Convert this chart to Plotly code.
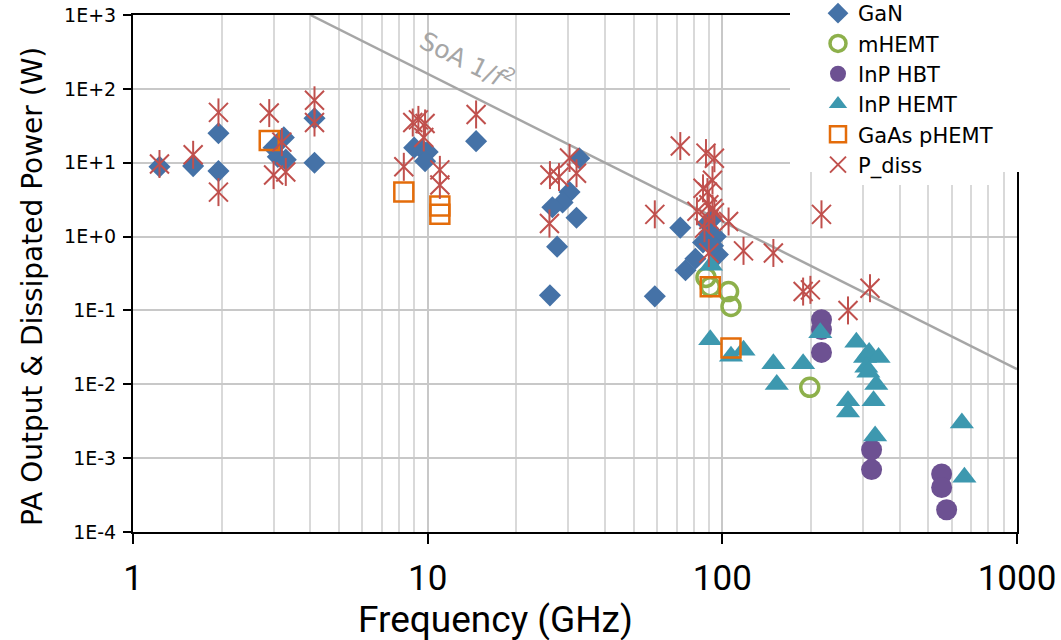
import math
import plotly.graph_objects as go

# ---------------- data ----------------
gan_f = [1.23, 1.6, 1.95, 1.95, 3.0, 3.25, 3.1, 3.3, 4.13, 4.13,
         9.0, 9.6, 10.0, 9.8, 14.6,
         32.7, 30.3, 28.7, 26.5, 32.0, 27.5, 26.0,
         59, 72, 75, 81, 86, 89, 90, 92, 95, 96.6, 93]
gan_p = [8.8, 9.0, 25, 7.7, 16, 22, 12, 11, 40, 10,
         16, 15, 14, 10.5, 19.6,
         11.5, 4.0, 2.9, 2.5, 1.8, 0.73, 0.16,
         0.155, 1.32, 0.35, 0.5, 0.83, 1.5, 1.1, 1.7, 1.0, 0.57, 0.75]

mhemt_f = [88, 91, 105, 107, 198]
mhemt_p = [0.28, 0.21, 0.18, 0.113, 0.0091]

hbt_f = [217, 217, 217, 321, 321, 555, 555, 577]
hbt_p = [0.075, 0.055, 0.027, 0.0013, 0.0007, 0.00061, 0.0004, 0.0002]

hemt_f = [91.5, 91, 107, 118, 149, 153, 188, 215, 285, 305, 315, 339,
          308, 313, 333, 326, 267, 267, 330, 650, 663]
hemt_p = [0.41, 0.04, 0.024, 0.029, 0.019, 0.0099, 0.019, 0.05, 0.037, 0.023, 0.027, 0.023,
          0.017, 0.0145, 0.0099, 0.006, 0.006, 0.0042, 0.002, 0.003, 0.00055]

gaas_f = [2.9, 8.3, 11, 11, 91, 107]
gaas_p = [20, 4.0, 2.6, 2.0, 0.21, 0.031]

pdiss_f = [1.23, 1.6, 1.95, 1.95, 2.9, 3.0, 3.2, 3.3, 4.13, 4.13,
           8.3, 8.9, 9.3, 9.8, 9.7, 11, 11, 14.6,
           30.3, 26, 27.9, 32, 25.9,
           59, 72, 88, 94, 92.6, 86, 89, 82, 90, 92.6, 94, 90, 87, 105, 90,
           118, 149, 188, 199, 217, 267, 317]
pdiss_p = [9.6, 12.8, 48, 4.0, 47, 6.8, 19, 7.5, 70, 35,
           8.8, 35, 38, 34, 22, 8.0, 5.0, 45,
           11.6, 6.8, 6.4, 7.2, 1.5,
           2.0, 16.8, 13.5, 11.5, 5.8, 4.5, 4.0, 2.2, 2.7, 2.4, 2.1, 1.7, 1.3, 1.6, 0.6,
           0.64, 0.6, 0.18, 0.19, 2.0, 0.1, 0.2]

soa_f = [4, 1000]
soa_p = [1000, 0.016]

x_tickvals = [1, 10, 100, 1000]
x_ticktext = ["1", "10", "100", "1000"]
y_tickvals = [1e-4, 1e-3, 1e-2, 1e-1, 1e0, 1e1, 1e2, 1e3]
y_ticktext = ["1E-4", "1E-3", "1E-2", "1E-1", "1E+0", "1E+1", "1E+2", "1E+3"]

# ---------------- styling ----------------
C_GAN = "#4572A7"
C_MHEMT = "#8DB04B"
C_HBT = "#6D5192"
C_HEMT = "#3D98AF"
C_GAAS = "#E46C0A"
C_PDISS = "#C0504D"
NARROW = "Roboto, Liberation Sans Narrow, sans-serif"
BASE = "DejaVu Sans, Verdana, sans-serif"

FW, FH = 1061, 640
L, T = 133, 15
R = FW - 1017
B = FH - 532
PW = FW - L - R
PH = FH - T - B


def px_x(x):
    # page pixel -> paper fraction
    return (x - L) / PW


def px_y(y):
    return (FH - B - y) / PH


fig = go.Figure()

fig.add_trace(go.Scatter(x=soa_f, y=soa_p, mode="lines", showlegend=False,
                         line=dict(color="#A6A6A6", width=2.5), hoverinfo="skip"))

fig.add_trace(go.Scatter(x=gan_f, y=gan_p, mode="markers", name="GaN",
                         marker=dict(symbol="diamond", size=17, color=C_GAN)))
fig.add_trace(go.Scatter(x=mhemt_f, y=mhemt_p, mode="markers", name="mHEMT",
                         marker=dict(symbol="circle-open", size=18, color=C_MHEMT,
                                     line=dict(width=3.5, color=C_MHEMT))))
fig.add_trace(go.Scatter(x=hbt_f, y=hbt_p, mode="markers", name="InP HBT",
                         marker=dict(symbol="circle", size=21, color=C_HBT)))
fig.add_trace(go.Scatter(x=hemt_f, y=hemt_p, mode="markers", name="InP HEMT",
                         marker=dict(symbol="triangle-up", size=21, color=C_HEMT)))
fig.add_trace(go.Scatter(x=gaas_f, y=gaas_p, mode="markers", name="GaAs pHEMT",
                         marker=dict(symbol="square-open", size=19, color=C_GAAS,
                                     line=dict(width=2.5, color=C_GAAS))))
fig.add_trace(go.Scatter(x=pdiss_f, y=pdiss_p, mode="markers", name="P_diss",
                         legendgroup="pd",
                         marker=dict(symbol="x-thin-open", size=19, color=C_PDISS,
                                     line=dict(width=2, color=C_PDISS))))
fig.add_trace(go.Scatter(x=pdiss_f, y=pdiss_p, mode="markers", name="P_diss",
                         legendgroup="pd", showlegend=False,
                         marker=dict(symbol="line-ns-open", size=20, color=C_PDISS,
                                     line=dict(width=2, color=C_PDISS))))

fig.update_layout(
    width=FW, height=FH, autosize=False,
    margin=dict(l=L, r=R, t=T, b=B, autoexpand=False),
    paper_bgcolor="white", plot_bgcolor="white",
    font=dict(family=BASE, color="black"),
    showlegend=True,
    legend=dict(x=px_x(818), y=px_y(-7), xanchor="left", yanchor="top",
                bgcolor="rgba(255,255,255,1)", font=dict(family=BASE, size=21, color="black"),
                tracegroupgap=0),
    xaxis=dict(type="log", range=[0, 3], tickmode="array", tickvals=x_tickvals,
               ticktext=x_ticktext, tickfont=dict(family=NARROW, size=35, color="black"),
               ticks="outside", ticklen=10, tickwidth=2, tickcolor="black",
               ticklabelstandoff=4, ticklabeloverflow="allow", automargin=False,
               showline=True, linecolor="black", linewidth=2, mirror=True,
               showgrid=True, gridcolor="#C8C8C8", gridwidth=2,
               minor=dict(dtick="D1", showgrid=True, gridcolor="#D9D9D9", gridwidth=2,
                          ticks="")),
    yaxis=dict(type="log", range=[-4, 3], tickmode="array", tickvals=y_tickvals,
               ticktext=y_ticktext, tickfont=dict(family=BASE, size=19, color="black"),
               ticks="outside", ticklen=8, tickwidth=1.5, tickcolor="black",
               ticklabelstandoff=3, ticklabeloverflow="allow", automargin=False,
               showline=True, linecolor="black", linewidth=2, mirror=True,
               showgrid=True, gridcolor="#C8C8C8", gridwidth=2),
)

# white area behind the legend (the legend box covers the plot corner)
fig.add_shape(type="rect", xref="paper", yref="paper",
              x0=px_x(790), x1=px_x(1070), y0=px_y(172), y1=px_y(-10),
              fillcolor="white", line=dict(width=0), layer="above")

# axis titles
fig.add_annotation(text="Frequency (GHz)", xref="paper", yref="paper",
                   x=px_x(495), y=px_y(596), showarrow=False,
                   xanchor="center", yanchor="top",
                   font=dict(family=NARROW, size=37, color="black"))
fig.add_annotation(text="PA Output & Dissipated Power (W)", xref="paper", yref="paper",
                   x=px_x(32), y=px_y(287), showarrow=False,
                   textangle=-90, xanchor="center", yanchor="middle",
                   font=dict(family=BASE, size=28, color="black"))

# SoA label along the line
fig.add_annotation(text="SoA 1/<i>f</i><sup>2</sup>", x=math.log10(13.7), y=math.log10(245),
                   xref="x", yref="y", showarrow=False, textangle=26.7,
                   font=dict(family=BASE, size=25, color="#A6A6A6"))

fig.write_html("out.html",
               config={"displayModeBar": False},
               post_script="document.body.style.margin='0';document.body.style.padding='0';")
